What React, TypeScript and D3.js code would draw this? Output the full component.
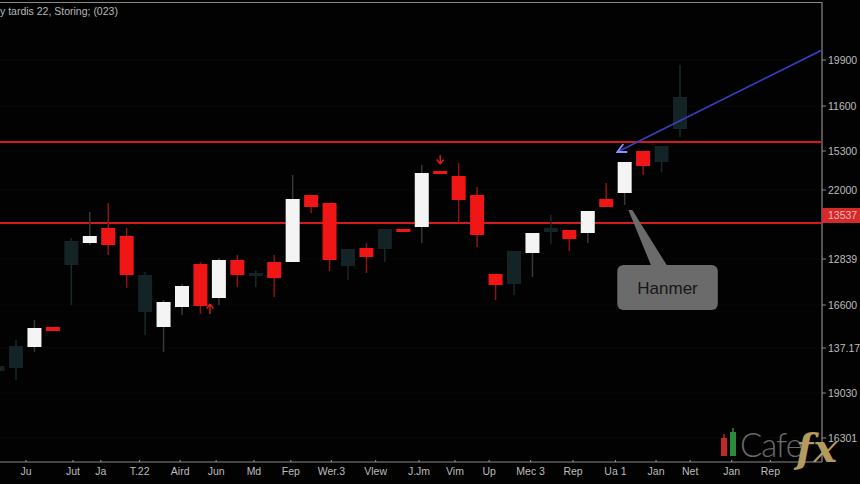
import React, { useEffect } from 'react';
import * as d3 from 'd3';

const W = 860;
const H = 484;

const title = 'y tardis 22, Storing; (023)';

// candle kinds: w = white (up), r = red (down), d = dark (faded)
const kinds = ['d','d','w','r','d','w','r','r','d','w','w','r','w','r','d','r','w','r','r','d','r','d','r','w','r','r','r','r','d','w','d','r','w','r','w','r','d','d'];
const opens  = [1091,1094,1115,1135,1197,1219,1234,1226,1150,1135,1155,1198,1164,1202,1186,1200,1200,1267,1259,1196,1214,1213,1233,1235,1291,1286,1267,1188,1178,1209,1230,1232,1229,1263,1269,1311,1300,1333];
const highs  = [1096,1122,1142,1135,1224,1250,1259,1234,1190,1162,1178,1200,1204,1207,1192,1207,1287,1267,1259,1213,1219,1233,1233,1297,1291,1299,1275,1188,1211,1229,1247,1232,1251,1279,1300,1311,1316,1397];
const lows   = [1091,1082,1110,1131,1157,1217,1207,1174,1127,1110,1147,1148,1157,1175,1175,1165,1200,1249,1191,1182,1189,1200,1230,1219,1288,1239,1215,1162,1167,1185,1218,1211,1219,1255,1257,1287,1290,1325];
const closes = [1096,1116,1134,1131,1221,1226,1217,1187,1187,1160,1176,1156,1202,1187,1189,1184,1263,1255,1202,1213,1205,1233,1230,1289,1288,1262,1227,1177,1211,1229,1234,1223,1251,1255,1300,1296,1316,1365];
const firstIndex = -1;

const yTickValues = [1402, 1356, 1311, 1272, 1203, 1157, 1114, 1069, 1024];
const yTickLabels = ['19900', '11600', '15300', '22000', '12839', '16600', '137.17', '19030', '16301'];
const badgeValue = 1247;
const badgeLabel = '13537';
const levelLines = [1320, 1239];

const xTickPositions = [0.54, 3.09, 4.6, 6.7, 8.9, 10.85, 12.9, 14.9, 17.1, 19.5, 21.85, 23.8, 25.65, 27.9, 30.2, 32.5, 34.7, 36.55, 38.8, 40.9];
const xTickLabels = ['Ju', 'Jut', 'Ja', 'T.22', 'Aird', 'Jun', 'Md', 'Fep', 'Wer.3', 'Vlew', 'J.Jm', 'Vim', 'Up', 'Mec 3', 'Rep', 'Ua 1', 'Jan', 'Net', 'Jan', 'Rep'];

// annotations (index, price)
const upArrowAt = [10.52, 1152];
const downArrowAt = [23.0, 1302];
const blueArrowFrom = [43.7, 1412];
const blueArrowTo = [32.6, 1310];
const calloutText = 'Hanmer';
const calloutBox = [32.6, 38.05, 1197, 1152]; // x0, x1, yTop, yBottom
const calloutTip = [33.2, 1252];

const FILL: Record<string, string> = { w: '#f4f4f4', r: '#f01616', d: '#132326' };
const WICK: Record<string, string> = { w: '#383838', r: '#8e1414', d: '#182a2c' };

export default function App() {
  useEffect(() => {
    document.body.style.margin = '0';
    document.body.style.background = '#000';
  }, []);

  const plotRight = 822;
  const plotBottom = 462;
  const x = d3.scaleLinear().domain([0, 36]).range([16, 680]);
  const y = d3.scaleLinear().domain([1000, 1460]).range([462, 2]);
  const bw = 14;

  const candles = opens.map((o, i) => ({
    i: i + firstIndex,
    o, h: highs[i], l: lows[i], c: closes[i], k: kinds[i],
  }));

  const font = "'Liberation Sans', Arial, sans-serif";

  const bx0 = x(calloutBox[0]), bx1 = x(calloutBox[1]);
  const by0 = y(calloutBox[2]), by1 = y(calloutBox[3]);
  const tipX = x(calloutTip[0]), tipY = y(calloutTip[1]);

  const ax1 = x(blueArrowFrom[0]), ay1 = y(blueArrowFrom[1]);
  const ax2 = x(blueArrowTo[0]), ay2 = y(blueArrowTo[1]);

  return (
    <svg width={W} height={H} style={{ display: 'block', position: 'absolute', left: 0, top: 0, background: '#000' }}>
      <defs>
        <marker id="ah" viewBox="0 0 10 10" refX="9" refY="5" markerWidth="7" markerHeight="7" orient="auto">
          <path d="M1,1 L9,5 L1,9" fill="none" stroke="#8a90ff" strokeWidth="1.6" />
        </marker>
        <clipPath id="plot"><rect x={0} y={2} width={plotRight} height={plotBottom - 2} /></clipPath>
      </defs>
      <rect x={0} y={0} width={W} height={H} fill="#020203" />

      {/* faint grid */}
      {yTickValues.map((v, i) => (
        <line key={'g' + i} x1={0} x2={plotRight} y1={y(v)} y2={y(v)} stroke="#060608" strokeWidth={1} />
      ))}

      {/* frame */}
      <line x1={0} x2={plotRight} y1={2.5} y2={2.5} stroke="#8a8a8a" strokeWidth={1.2} />
      <line x1={plotRight} x2={plotRight} y1={2} y2={plotBottom} stroke="#8a8a8a" strokeWidth={1.2} />
      <line x1={0} x2={plotRight} y1={plotBottom} y2={plotBottom} stroke="#8a8a8a" strokeWidth={1.2} />

      <text x={0} y={15} fill="#b8b8b8" fontSize={10.5} fontFamily={font}>{title}</text>

      <g clipPath="url(#plot)">
        {/* level lines */}
        {levelLines.map((v, i) => (
          <line key={'lv' + i} x1={0} x2={plotRight} y1={y(v)} y2={y(v)} stroke="#d01c1c" strokeWidth={1.8} />
        ))}

        {/* candles */}
        {candles.map((d) => {
          const cx = x(d.i);
          const top = y(Math.max(d.o, d.c));
          const bot = y(Math.min(d.o, d.c));
          return (
            <g key={'c' + d.i}>
              <line x1={cx} x2={cx} y1={y(d.h)} y2={y(d.l)} stroke={WICK[d.k]} strokeWidth={1.5} />
              <rect x={cx - bw / 2} y={top} width={bw} height={Math.max(3, bot - top)} fill={FILL[d.k]} />
            </g>
          );
        })}

        {/* markers */}
        <g transform={`translate(${x(upArrowAt[0])},${y(upArrowAt[1])})`}>
          <path d="M0,-6 L-3.5,-1.5 M0,-6 L3.5,-1.5 M0,-6 L0,4" stroke="#e21a1a" strokeWidth={1.4} fill="none" />
        </g>
        <g transform={`translate(${x(downArrowAt[0])},${y(downArrowAt[1])})`}>
          <path d="M0,4 L-3.5,-0.5 M0,4 L3.5,-0.5 M0,4 L0,-5" stroke="#e21a1a" strokeWidth={1.4} fill="none" />
        </g>

        {/* blue arrow */}
        <line x1={ax1} y1={ay1} x2={ax2} y2={ay2} stroke="#3a3ec4" strokeWidth={1.6} markerEnd="url(#ah)" />

        {/* callout */}
        <path d={`M${tipX},${tipY} L${tipX + 4},${tipY} L${bx0 + 50},${by0 + 1} L${bx0 + 34},${by0 + 1} Z`} fill="#6b6b6b" />
        <rect x={bx0} y={by0} width={bx1 - bx0} height={by1 - by0} rx={6} fill="#6b6b6b" />
        <text x={(bx0 + bx1) / 2} y={(by0 + by1) / 2 + 6} textAnchor="middle" fill="#161616" fontSize={17} fontFamily={font}>{calloutText}</text>
      </g>

      {/* right axis */}
      {yTickValues.map((v, i) => (
        <g key={'yt' + i}>
          <line x1={plotRight} x2={plotRight + 4} y1={y(v)} y2={y(v)} stroke="#8a8a8a" />
          <text x={plotRight + 6} y={y(v) + 4} fill="#bdbdbd" fontSize={10.5} fontFamily={font}>{yTickLabels[i]}</text>
        </g>
      ))}
      <rect x={plotRight} y={y(badgeValue) - 7} width={W - plotRight} height={15} fill="#d42a2a" />
      <text x={plotRight + 6} y={y(badgeValue) + 4} fill="#f4b4b4" fontSize={10.5} fontFamily={font}>{badgeLabel}</text>

      {/* bottom axis */}
      {xTickPositions.map((p, i) => (
        <g key={'xt' + i}>
          <line x1={x(p)} x2={x(p)} y1={plotBottom - 2} y2={plotBottom} stroke="#9a9a9a" />
          <text x={x(p)} y={475} textAnchor="middle" fill="#bdbdbd" fontSize={10.5} fontFamily={font}>{xTickLabels[i]}</text>
        </g>
      ))}

      {/* logo */}
      <g>
        <line x1={724} x2={724} y1={434} y2={440} stroke="#c0282a" strokeWidth={1.5} />
        <rect x={721} y={438} width={6} height={18} fill="#c0282a" />
        <line x1={733} x2={733} y1={428} y2={434} stroke="#2e8a3a" strokeWidth={1.5} />
        <rect x={730} y={432} width={6} height={24} fill="#2e8a3a" />
        <text x={740} y={457} fill="#6a6a6a" fontSize={33} fontFamily="Lato, 'Open Sans', sans-serif" fontWeight={300} letterSpacing={-1}>Cafe</text>
        <text x={796} y={462} fill="#b39b5e" fontSize={40} fontStyle="italic" fontWeight="bold" fontFamily="'DejaVu Serif', 'Liberation Serif', serif">fx</text>
      </g>
    </svg>
  );
}
